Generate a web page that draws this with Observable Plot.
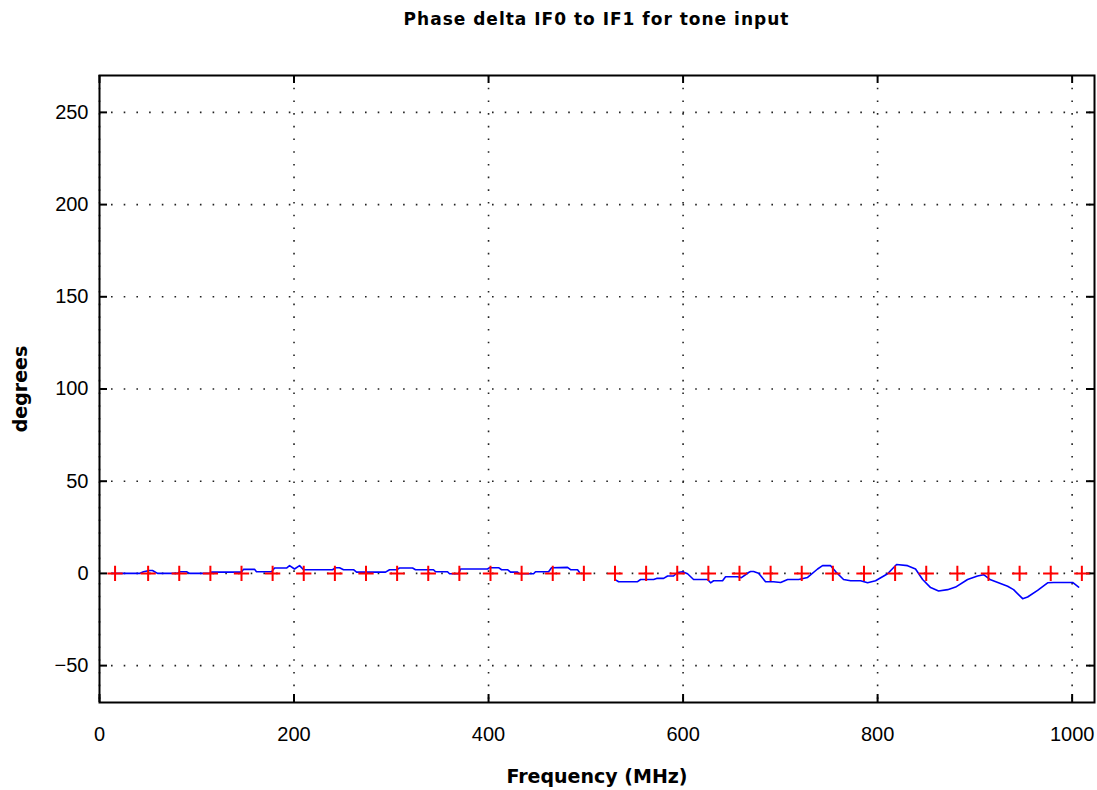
<!DOCTYPE html>
<html>
<head>
<meta charset="utf-8">
<script src="https://cdn.jsdelivr.net/npm/d3@7"></script>
<script src="https://cdn.jsdelivr.net/npm/@observablehq/plot@0.6"></script>
<style>
  html, body { margin: 0; padding: 0; background: #fff; }
  #title { height: 40px; line-height: 38px; padding-left: 99px; width: 995px; text-align: center;
           font-family: "DejaVu Sans", sans-serif; font-weight: bold; font-size: 17px; letter-spacing: 1px; color: #000; }
  svg { display: block; }
</style>
</head>
<body>
<div id="title">Phase delta IF0 to IF1 for tone input</div>
<div id="chart"></div>
<script>
// Tick values
const xTicks = [0, 200, 400, 600, 800, 1000];
const yTicks = [-50, 0, 50, 100, 150, 200, 250];

// Tone markers (red crosses)
const markerFreq = [16, 50, 82, 114, 146, 178, 210, 242, 274, 306, 338, 370, 402, 434, 466, 498,
  530, 562, 594, 626, 658, 690, 722, 754, 786, 818, 850, 882, 914, 946, 978, 1010];
const markerPhase = markerFreq.map(() => 0);

// Measured phase delta, lower segment (MHz, degrees)
const lowFreq = [13.4, 41.1, 45.2, 51.4, 54.5, 59.6, 80.2, 82.3, 89.5, 92.5, 113.1, 115.2, 146, 148,
  159.4, 161.4, 176.9, 180, 192.3, 195.4, 200.5, 205.7, 209.8, 239.6, 242.7, 246.8, 250.9, 261.2,
  264.3, 294.1, 298.2, 305.4, 308.5, 321.9, 324.9, 343.4, 345.5, 357.8, 359.9, 369.2, 371.2, 399,
  401, 410.3, 413.4, 419.5, 422.6, 429.8, 431.9, 446.3, 448.3, 461.7, 464.8, 481.2, 484.3, 491.5, 493.6];
const lowPhase = [0, 0, 0.9, 1.6, 1.6, 0, 0, 0.9, 0.9, 0, 0, 0.7, 0.7, 2.2,
  2.2, 0.9, 0.9, 2.9, 2.9, 4.2, 2.4, 4.2, 2, 2, 3.1, 3.1, 2, 2,
  0.7, 0.7, 2, 2, 2.9, 2.9, 2, 2, 0.9, 0.9, -0.2, -0.2, 2.4, 2.4,
  3.1, 3.1, 2, 2, 0.7, 0.7, -0.2, -0.2, 0.9, 0.9, 3.1, 3.3, 2, 2, 0.5];

// Measured phase delta, upper segment (MHz, degrees)
const highFreq = [530.6, 533.7, 553.2, 556.3, 569.7, 572.8, 580, 584.1, 590.2, 594.3, 599.5, 604.6,
  610.8, 625.2, 628.3, 631.4, 640.6, 643.7, 656, 660, 667.4, 669.4, 672.5, 677.6, 684.8, 693, 700.3,
  707.5, 718.8, 728, 738.3, 743.4, 751.7, 756.8, 765, 772.2, 782.5, 789.7, 797.9, 810.3, 819.5,
  830.8, 839, 846.3, 854.5, 862.7, 872, 880.2, 892.5, 902.8, 909, 916.2, 933.7, 939.8, 949.1,
  954.2, 964.5, 974.8, 981, 1000.5, 1006.7];
const highPhase = [-3.5, -4.5, -4.5, -3.3, -3.3, -2.7, -2.7, -1.4, -1.4, 0.5, 0.9, -0.2,
  -3.3, -3.3, -5.1, -4, -4, -1.8, -1.8, -2.3, 0.5, 1, 1, 0.1, -4.5, -4.5, -4.9,
  -3.3, -3.3, -2.2, 2.4, 4.2, 4.2, 1, -3.3, -4, -4, -5.1, -4, -0.2, 4.8,
  4.2, 2.4, -3.3, -7.7, -9.5, -8.8, -7.4, -3.3, -1.4, -0.7, -3.5, -7, -8.8, -13.7,
  -12.8, -9.2, -5.1, -4.9, -4.9, -7.4];

const lineData = [
  ...lowFreq.map((f, i) => ({f, p: lowPhase[i], seg: "low"})),
  ...highFreq.map((f, i) => ({f, p: highPhase[i], seg: "high"}))
];
const markers = markerFreq.map((f, i) => ({f, p: markerPhase[i]}));

const W = 1097, H = 750;
const mL = 99, mR = 3, mT = 35, mB = 88;
const plotW = W - mL - mR, plotH = H - mT - mB;
const tickLen = 8;

const chart = Plot.plot({
  width: W, height: H,
  marginLeft: mL, marginRight: mR, marginTop: mT, marginBottom: mB,
  style: {fontFamily: "'Liberation Sans', sans-serif", fontSize: "20px", color: "#000", background: "#fff"},
  x: {domain: [0, 1023], ticks: xTicks},
  y: {domain: [-70, 270], ticks: yTicks},
  marks: [
    Plot.gridX(xTicks, {stroke: "#222", strokeOpacity: 1, strokeWidth: 1.6, strokeDasharray: "1.6,11.1"}),
    Plot.gridY(yTicks, {stroke: "#222", strokeOpacity: 1, strokeWidth: 1.6, strokeDasharray: "1.6,11.1", strokeDashoffset: -12}),
    // inward ticks on all four sides
    Plot.tickX(xTicks, {x: d => d, insetTop: plotH - tickLen, stroke: "#000", strokeWidth: 2}),
    Plot.tickX(xTicks, {x: d => d, insetBottom: plotH - tickLen, stroke: "#000", strokeWidth: 2}),
    Plot.tickY(yTicks, {y: d => d, insetRight: plotW - tickLen, stroke: "#000", strokeWidth: 2}),
    Plot.tickY(yTicks, {y: d => d, insetLeft: plotW - tickLen, stroke: "#000", strokeWidth: 2}),
    Plot.axisX(xTicks, {tickSize: 0, tickPadding: 24, label: null, fontSize: 20, tickFormat: d3.format("d")}),
    Plot.axisY(yTicks, {tickSize: 0, tickPadding: 11, label: null, fontSize: 20, tickFormat: d3.format("d")}),
    Plot.text(["Frequency (MHz)"], {frameAnchor: "bottom", lineAnchor: "middle", dy: 74, fontWeight: "bold", fontSize: 19,
      fontFamily: "'DejaVu Sans', sans-serif", letterSpacing: 0.5}),
    Plot.text(["degrees"], {frameAnchor: "left", textAnchor: "middle", lineAnchor: "middle", dx: -79, rotate: -90,
      fontWeight: "bold", fontSize: 19, fontFamily: "'DejaVu Sans', sans-serif"}),
    Plot.line(lineData, {x: "f", y: "p", z: "seg", stroke: "#0000ff", strokeWidth: 1.6, curve: "linear"}),
    Plot.dot(markers, {x: "f", y: "p", symbol: "plus", stroke: "#ff0000", strokeWidth: 2, r: 5}),
    Plot.frame({stroke: "#000", strokeWidth: 2})
  ]
});
document.getElementById("chart").appendChild(chart);
</script>
</body>
</html>
